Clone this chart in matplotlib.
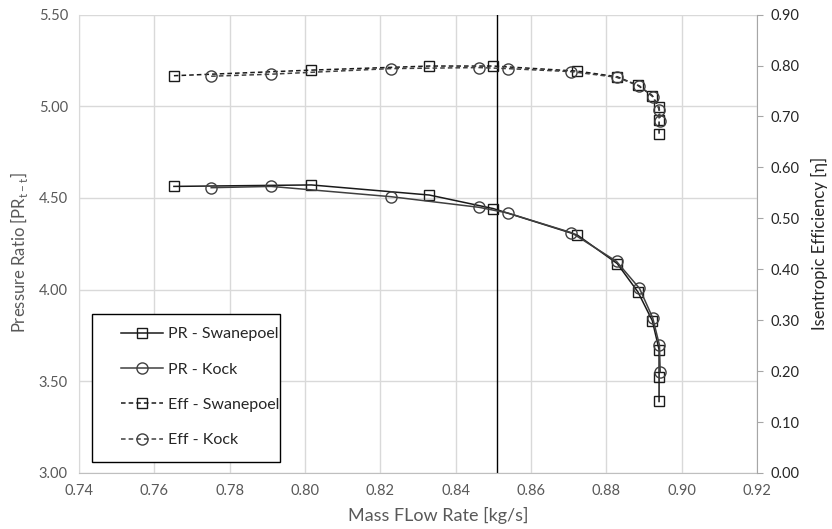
import matplotlib
matplotlib.use("Agg")
from matplotlib import pyplot as plt
from matplotlib.lines import Line2D
from matplotlib.patches import Rectangle

plt.rcParams["font.family"] = ["Lato", "DejaVu Sans"]

# Pressure ratio - Swanepoel
pr_sw_mfr = [0.7652, 0.8017, 0.8330, 0.8500, 0.8723, 0.8829, 0.8884, 0.8922, 0.8940, 0.8940, 0.8940]
pr_sw = [4.563, 4.571, 4.516, 4.442, 4.298, 4.142, 3.987, 3.831, 3.673, 3.526, 3.390]

# Pressure ratio - Kock
pr_ko_mfr = [0.7751, 0.7910, 0.8228, 0.8462, 0.8538, 0.8707, 0.8827, 0.8888, 0.8923, 0.8941, 0.8943]
pr_ko = [4.556, 4.563, 4.507, 4.449, 4.418, 4.311, 4.154, 4.007, 3.847, 3.698, 3.553]

# Efficiency - Swanepoel
eff_sw_mfr = [0.7652, 0.8017, 0.8330, 0.8500, 0.8723, 0.8829, 0.8884, 0.8922, 0.8940, 0.8940, 0.8940]
eff_sw = [0.780, 0.791, 0.799, 0.799, 0.789, 0.778, 0.761, 0.741, 0.718, 0.693, 0.665]

# Efficiency - Kock
eff_ko_mfr = [0.7751, 0.7910, 0.8228, 0.8462, 0.8538, 0.8707, 0.8827, 0.8888, 0.8923, 0.8941, 0.8943]
eff_ko = [0.779, 0.783, 0.794, 0.796, 0.794, 0.788, 0.777, 0.760, 0.739, 0.713, 0.691]

design_mfr = 0.851

grey = "#595959"
W, H = 832, 529
x0, x1, y_top, y_bot = 79, 757, 14.6, 473
fig = plt.figure(figsize=(W / 100, H / 100), dpi=100)
ax = fig.add_axes([x0 / W, 1 - y_bot / H, (x1 - x0) / W, (y_bot - y_top) / H])
ax2 = ax.twinx()


def ax_xy(px, py):
    # pixel position (from top-left) -> axes fraction
    return (px - x0) / (x1 - x0), (y_bot - py) / (y_bot - y_top)


sq = dict(marker="s", ms=7.5, mfc="none", mew=1.0)
ci = dict(marker="o", ms=8, mfc="none", mew=1.0)

ax.plot(pr_sw_mfr, pr_sw, color="#1a1a1a", lw=1.1, zorder=3, **sq)
ax.plot(pr_ko_mfr, pr_ko, color="#404040", lw=1.1, zorder=3, **ci)
ax2.plot(eff_sw_mfr, eff_sw, color="#1a1a1a", lw=1.1, ls=(0, (3, 2)), **sq)
ax2.plot(eff_ko_mfr, eff_ko, color="#404040", lw=1.1, ls=(0, (3, 2)), **ci)

ax.axvline(design_mfr, color="black", lw=1.0, zorder=2)

ax.set_xlim(0.74, 0.92)
ax.set_ylim(3.0, 5.5)
ax2.set_ylim(0.0, 0.9)
ax.set_xticks([0.74 + 0.02 * i for i in range(10)])
ax.set_yticks([3.0 + 0.5 * i for i in range(6)])
ax2.set_yticks([0.1 * i for i in range(10)])
ax.xaxis.set_major_formatter(matplotlib.ticker.FormatStrFormatter("%.2f"))
ax.yaxis.set_major_formatter(matplotlib.ticker.FormatStrFormatter("%.2f"))
ax2.yaxis.set_major_formatter(matplotlib.ticker.FormatStrFormatter("%.2f"))

ax.grid(True, color="#d9d9d9", lw=1.0, zorder=0)
ax.set_axisbelow(True)

ax.spines["top"].set_visible(False)
ax2.spines["top"].set_visible(False)
ax.spines["left"].set_color("#d9d9d9")
ax.spines["bottom"].set_color("#bfbfbf")
ax.spines["right"].set_visible(False)
ax2.spines["left"].set_visible(False)
ax2.spines["bottom"].set_visible(False)
ax2.spines["right"].set_color("#a6a6a6")

ax.tick_params(axis="both", length=0, labelsize=10.5, labelcolor=grey, pad=8)
ax2.tick_params(axis="y", length=4, color="#a6a6a6", direction="out", labelsize=10.5, labelcolor="#262626", pad=6)

ax.set_xlabel("Mass FLow Rate [kg/s]", fontsize=13, color=grey)
ax.xaxis.set_label_coords(ax_xy(438, 0)[0], -0.075)
ax.set_ylabel("Pressure Ratio [PR$_{\\mathregular{t-t}}$]", fontsize=12, color=grey)
ax.yaxis.set_label_coords(ax_xy(30, 0)[0], ax_xy(0, 252)[1])
ax2.set_ylabel("Isentropic Efficiency [\u03b7]", fontsize=12, color="#262626", labelpad=8)

# legend frame drawn separately so the entries can sit inset like the original
fx0, fy1 = ax_xy(92, 314)
fx1, fy0 = ax_xy(280, 462)
ax2.add_patch(Rectangle((fx0, fy0), fx1 - fx0, fy1 - fy0, transform=ax2.transAxes,
                        facecolor="white", edgecolor="black", lw=1.0, zorder=5))

handles = [
    Line2D([], [], color="#1a1a1a", lw=1.1, **sq),
    Line2D([], [], color="#404040", lw=1.1, **ci),
    Line2D([], [], color="#1a1a1a", lw=1.1, ls=(0, (3, 2)), **sq),
    Line2D([], [], color="#404040", lw=1.1, ls=(0, (3, 2)), **ci),
]
labels = ["PR - Swanepoel", "PR - Kock", "Eff - Swanepoel", "Eff - Kock"]
leg = ax2.legend(handles, labels, loc="upper left", bbox_to_anchor=ax_xy(121, 327),
                 fontsize=11.5, frameon=False, labelspacing=1.33, handlelength=2.6,
                 borderpad=0, handletextpad=0.35, borderaxespad=0)
leg.set_zorder(6)
for t in leg.get_texts():
    t.set_color("#262626")

fig.savefig("out.png", dpi=100)
